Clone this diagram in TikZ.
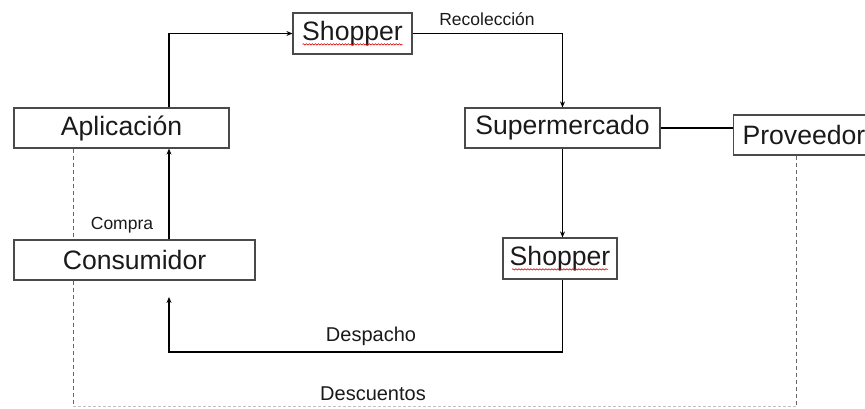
\documentclass[tikz,border=0pt]{standalone}
\usepackage{fontspec}
\setmainfont{Liberation Sans}
\usetikzlibrary{arrows.meta,calc,decorations.pathmorphing}
\definecolor{boxgray}{HTML}{4A4A4A}
\definecolor{inkgray}{HTML}{1A1A1A}
\definecolor{guidegray}{HTML}{666666}
\begin{document}
\begin{tikzpicture}[x=1pt,y=-1pt,
  box/.style={draw=boxgray,line width=1.2pt,inner sep=0pt,text=inkgray,
    font=\fontsize{26.6}{30}\selectfont},
  flow/.style={line width=1.6pt,-{Stealth[length=6pt,width=5pt]}},
  link/.style={line width=1.6pt},
  lblsmall/.style={inner sep=0pt,anchor=base,text=inkgray,font=\fontsize{17.5}{20}\selectfont},
  lblbig/.style={inner sep=0pt,anchor=base,text=inkgray,font=\fontsize{20}{24}\selectfont},
  guide/.style={draw=guidegray,line width=1pt,dash pattern=on 4pt off 3pt},
  guidefaint/.style={draw=guidegray!40,line width=0.9pt,dash pattern=on 3pt off 2pt},
  spell/.style={draw=red!85!black,line width=0.6pt,decorate,
    decoration={snake,amplitude=0.7pt,segment length=3pt}}
]
\useasboundingbox (0,0) rectangle (865,409);

% boxes
\node[box,minimum width=215pt,minimum height=40pt] (app)  at (121.5,128) {Aplicación};
\node[box,minimum width=241pt,minimum height=40pt] (cons) at (134.5,260) {Consumidor};
\node[box,minimum width=119pt,minimum height=41pt] (shopa) at (352.5,33.5) {Shopper};
\node[box,minimum width=195pt,minimum height=40pt] (sup) at (562.5,128) {Supermercado};
\node[box,minimum width=114pt,minimum height=41pt] (shopb) at (560,258.5) {Shopper};
\node[box,anchor=west,minimum height=40pt,text width=123pt,inner xsep=9pt,align=left]
  (prov) at (733,135) {Proveedor};

% spell-check marks under the shopper labels
\draw[spell] ($(shopa.base)+(-50,4)$) -- ($(shopa.base)+(50,4)$);
\draw[spell] ($(shopb.base)+(-48,4)$) -- ($(shopb.base)+(48,4)$);

% flow connectors
\draw[flow] (app.north -| 169,0) |- (shopa.west);
\draw[flow] (shopa.east) -| (sup.north);
\draw[flow] (sup.south) -- (sup.south |- shopb.north);
\draw[link] (sup.east) -- (sup.east -| prov.west);
\draw[flow] (cons.north -| 169,0) -- (app.south -| 169,0);
\coordinate (dtip) at (169,297);
\draw[flow] (shopb.south -| sup.south) |- (169,352) -- (dtip);

% labels
\node[lblsmall] (lrec) at (487,26) {Recolección};
\node[lblsmall] (lcom) at (122,229) {Compra};
\node[lblbig] (ldes) at (371,341) {Despacho};
\node[lblbig] (ldsc) at (373,400) {Descuentos};

% dashed discount frame
\coordinate (bl) at (73,406);
\coordinate (br) at (796,406);
\draw[guide] (app.south -| bl) -- (cons.north -| bl);
\draw[guide] (cons.south -| bl) -- (bl);
\draw[guide] (prov.south -| br) -- (br);
\draw[guidefaint] (bl) -- (br);
\end{tikzpicture}
\end{document}
